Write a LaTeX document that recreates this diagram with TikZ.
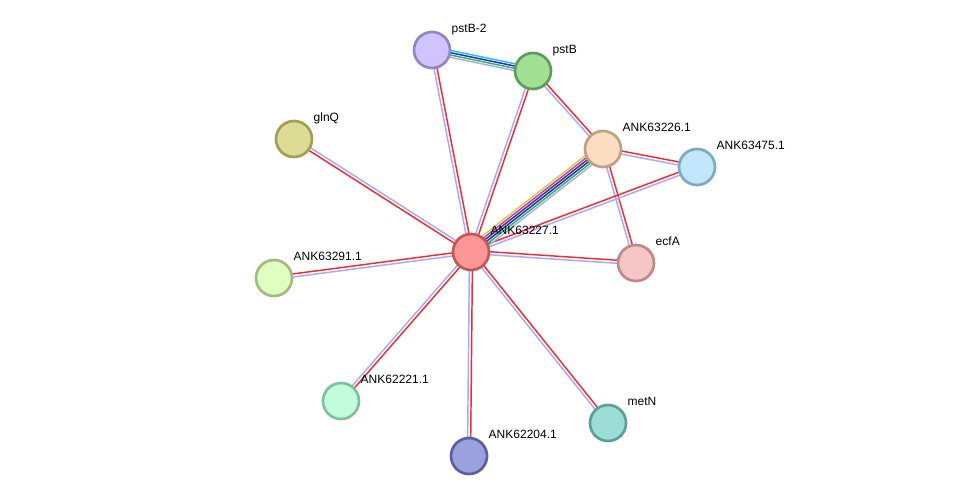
\documentclass[tikz,border=0pt]{standalone}
\usepackage{fontspec}
\setmainfont{Liberation Sans}
\usetikzlibrary{calc}
\pgfdeclarelayer{background}
\pgfsetlayers{background,main}

\definecolor{edgered}{HTML}{F52A2A}
\definecolor{edgeblue}{HTML}{A8A8FF}
\definecolor{edgecyan}{HTML}{22C4E4}
\definecolor{edgedkblue}{HTML}{2222EE}
\definecolor{edgegreen}{HTML}{33BB33}
\definecolor{edgeolive}{HTML}{C4D444}
\definecolor{edgemagenta}{HTML}{D033D0}
\definecolor{edgeblack}{HTML}{404040}

\definecolor{pstBtwoFill}{HTML}{D0C4FE}  \definecolor{pstBtwoLine}{HTML}{9484C4}
\definecolor{pstBFill}{HTML}{A0E092}     \definecolor{pstBLine}{HTML}{5C9C5C}
\definecolor{glnQFill}{HTML}{DCDC96}     \definecolor{glnQLine}{HTML}{A0A050}
\definecolor{ankAFill}{HTML}{FDDEC0}     \definecolor{ankALine}{HTML}{C0A080}
\definecolor{ankBFill}{HTML}{C2E6FC}     \definecolor{ankBLine}{HTML}{7EA8C4}
\definecolor{ankCFill}{HTML}{FF9696}     \definecolor{ankCLine}{HTML}{C05858}
\definecolor{ankDFill}{HTML}{E0FEC2}     \definecolor{ankDLine}{HTML}{A0BC80}
\definecolor{ecfAFill}{HTML}{F5C6C6}     \definecolor{ecfALine}{HTML}{C08888}
\definecolor{ankEFill}{HTML}{C2FCDA}     \definecolor{ankELine}{HTML}{80C09C}
\definecolor{metNFill}{HTML}{9ADED6}     \definecolor{metNLine}{HTML}{58A098}
\definecolor{ankFFill}{HTML}{9AA2DE}     \definecolor{ankFLine}{HTML}{5860A0}

% one strand of an edge, shifted sideways by #4
\newcommand{\strand}[4]{%
    \draw[#3] ($(#1)!#4!90:(#2)$) -- ($(#2)!#4!-90:(#1)$);}

\begin{document}
\begin{tikzpicture}[
    x=0.75pt, y=-0.75pt,
    protein/.style={draw=#1Line, fill=#1Fill, circle, minimum size=27pt, inner sep=0pt, line width=2pt},
    lbl/.style={anchor=base west, inner sep=0pt, xshift=4pt, yshift=3.25pt, font=\fontsize{9}{10}\selectfont},
    every path/.style={line width=1.1pt},
]
    \node[protein=pstBtwo, label={[lbl]45:pstB-2}] (pstBtwo) at (432, 50) {};
    \node[protein=pstB, label={[lbl]45:pstB}] (pstB) at (533, 71) {};
    \node[protein=glnQ, label={[lbl]45:glnQ}] (glnQ) at (294, 139) {};
    \node[protein=ankA, label={[lbl]45:ANK63226.1}] (ank226) at (603, 149) {};
    \node[protein=ankB, label={[lbl]45:ANK63475.1}] (ank475) at (697, 167) {};
    \node[protein=ankC, label={[lbl]45:ANK63227.1}] (ank227) at (471, 252) {};
    \node[protein=ankD, label={[lbl]45:ANK63291.1}] (ank291) at (274, 278) {};
    \node[protein=ecfA, label={[lbl]45:ecfA}] (ecfA) at (636, 263) {};
    \node[protein=ankE, label={[lbl]45:ANK62221.1}] (ank221) at (341, 401) {};
    \node[protein=metN, label={[lbl]45:metN}] (metN) at (608, 423) {};
    \node[protein=ankF, label={[lbl]45:ANK62204.1}] (ank204) at (469, 456) {};

    \begin{pgfonlayer}{background}
        \fill[white] (0, 0) rectangle (975, 501);

        \foreach \a/\b in {ank227/glnQ, ank291/ank227, pstBtwo/ank227, pstB/ank227,
                           pstB/ank226, ank226/ank475, ank226/ecfA, ank227/ank475,
                           ank227/ecfA, ank227/ank221, ank227/ank204, ank227/metN} {
            \strand{\a}{\b}{edgered}{1.15pt}
            \strand{\a}{\b}{edgeblue}{-1.15pt}
        }

        \foreach \col/\d in {edgecyan/2.55pt, edgedkblue/0.85pt, edgegreen/-0.85pt, edgeblue/-2.55pt} {
            \strand{pstBtwo}{pstB}{\col}{\d}
        }

        \foreach \col/\d in {edgeolive/4.25pt, edgemagenta/2.55pt, edgeblack/0.85pt,
                             edgedkblue/-0.85pt, edgegreen/-2.55pt, edgeblue/-4.25pt} {
            \strand{ank227}{ank226}{\col}{\d}
        }
    \end{pgfonlayer}
\end{tikzpicture}
\end{document}
